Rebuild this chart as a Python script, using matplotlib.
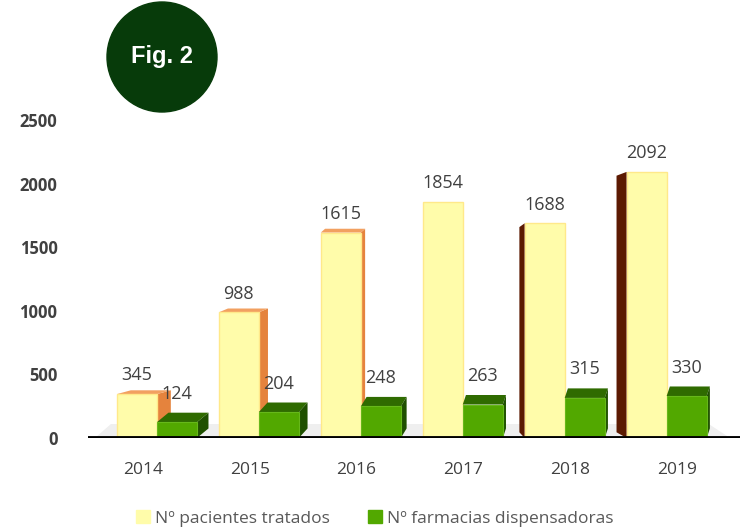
import matplotlib.pyplot as plt
import numpy as np
from matplotlib.patches import Ellipse, Polygon

years = ["2014", "2015", "2016", "2017", "2018", "2019"]
pacientes = [345, 988, 1615, 1854, 1688, 2092]
farmacias = [124, 204, 248, 263, 315, 330]
yticks = [0, 500, 1000, 1500, 2000, 2500]
labels = ["Nº pacientes tratados", "Nº farmacias dispensadoras"]

YELLOW = "#FFFCAA"
YELLOW_EDGE = "#FFE98A"
ORANGE = "#E5833D"
DARK_RED = "#5C1A02"
GREEN = "#52A800"
GREEN_TOP = "#2F6B00"
GREEN_SIDE = "#1F5000"
TEXT = "#404040"

plt.rcParams["font.family"] = ["Open Sans", "DejaVu Sans"]

fig = plt.figure(figsize=(7.5, 5.3), dpi=100)
ax = fig.add_axes([0.1173, 0.1736, 0.869, 0.660])
ax.set_xlim(-0.515, 5.59)
ax.set_ylim(0, 2750)

x = np.arange(len(years))
w = 0.375
shift = (2.9 - x) * 0.045   # fake perspective: groups drift toward the middle
depth = 75                  # vertical depth of the 3D faces, in data units

# light floor under the bars
ax.add_patch(Polygon([(-0.45, 0), (5.5, 0), (5.3, 110), (-0.3, 110)],
                     closed=True, color="#EFEFEF", zorder=0, lw=0))

yc = x + shift - w / 2
gc = x + shift + w / 2

for i in range(len(years)):
    h = pacientes[i]
    x0, x1 = yc[i] - w / 2, yc[i] + w / 2
    s = shift[i]
    if s > 0.005:   # right face visible
        ax.add_patch(Polygon([(x1, 0), (x1 + s, depth * 0.6), (x1 + s, h + depth * 0.4), (x1, h)],
                             closed=True, color=ORANGE, zorder=1, lw=0))
        ax.add_patch(Polygon([(x0, h), (x1, h), (x1 + s, h + depth * 0.4), (x0 + s, h + depth * 0.4)],
                             closed=True, color="#F2A060", zorder=1, lw=0))
    elif s < -0.005:  # left face visible
        ax.add_patch(Polygon([(x0, 0), (x0 + s, depth * 0.6), (x0 + s, h - depth * 0.4), (x0, h)],
                             closed=True, color=DARK_RED, zorder=1, lw=0))

ax.bar(yc, pacientes, w, color=YELLOW, edgecolor=YELLOW_EDGE, linewidth=1, zorder=2)

for i in range(len(years)):
    h = farmacias[i]
    x0, x1 = gc[i] - w / 2, gc[i] + w / 2
    d = 0.03 + max(shift[i], 0) * 0.6
    ax.add_patch(Polygon([(x0, h), (x1, h), (x1 + d, h + depth), (x0 + d, h + depth)],
                         closed=True, color=GREEN_TOP, zorder=3, lw=0))
    ax.add_patch(Polygon([(x1, 0), (x1 + d, depth), (x1 + d, h + depth), (x1, h)],
                         closed=True, color=GREEN_SIDE, zorder=3, lw=0))

ax.bar(gc, farmacias, w, color=GREEN, edgecolor="#66B81A", linewidth=0.8, zorder=4)

for xi, v in zip(yc, pacientes):
    ax.annotate(str(v), (xi, v), xytext=(0, 7), textcoords="offset points",
                ha="center", va="bottom", fontsize=13, color=TEXT, zorder=5)
for xi, v in zip(gc, farmacias):
    ax.annotate(str(v), (xi, v), xytext=(0, 14), textcoords="offset points",
                ha="center", va="bottom", fontsize=13, color=TEXT, zorder=5)

ax.axhline(0, color="black", lw=3.5, zorder=6)

ax.set_xticks(x)
ax.set_xticklabels(years, fontsize=12.5, color=TEXT)
ax.set_yticks(yticks)
ax.set_yticklabels([str(t) for t in yticks], fontsize=12, color=TEXT, fontweight="bold")
ax.tick_params(length=0, axis="x", pad=17)
ax.tick_params(length=0, axis="y", pad=22)
for sp in ax.spines.values():
    sp.set_visible(False)

handles = [plt.Rectangle((0, 0), 1, 1, color=YELLOW), plt.Rectangle((0, 0), 1, 1, color=GREEN)]
fig.legend(handles, labels, loc="center", bbox_to_anchor=(0.5, 0.022), ncol=2, frameon=False,
           fontsize=12.5, labelcolor="#595959", handlelength=0.8, handleheight=0.8,
           handletextpad=0.3, columnspacing=2.2)

# "Fig. 2" badge
fig.patches.append(Ellipse((162 / 750, 1 - 57 / 530), 110 / 750, 110 / 530,
                           transform=fig.transFigure, color="#073B0A", zorder=10))
fig.text(162 / 750, 1 - 57 / 530, "Fig. 2", ha="center", va="center", color="white",
         fontsize=17, fontweight="bold", family=["Liberation Sans", "DejaVu Sans"], zorder=11)

fig.savefig("out.png", dpi=100)
